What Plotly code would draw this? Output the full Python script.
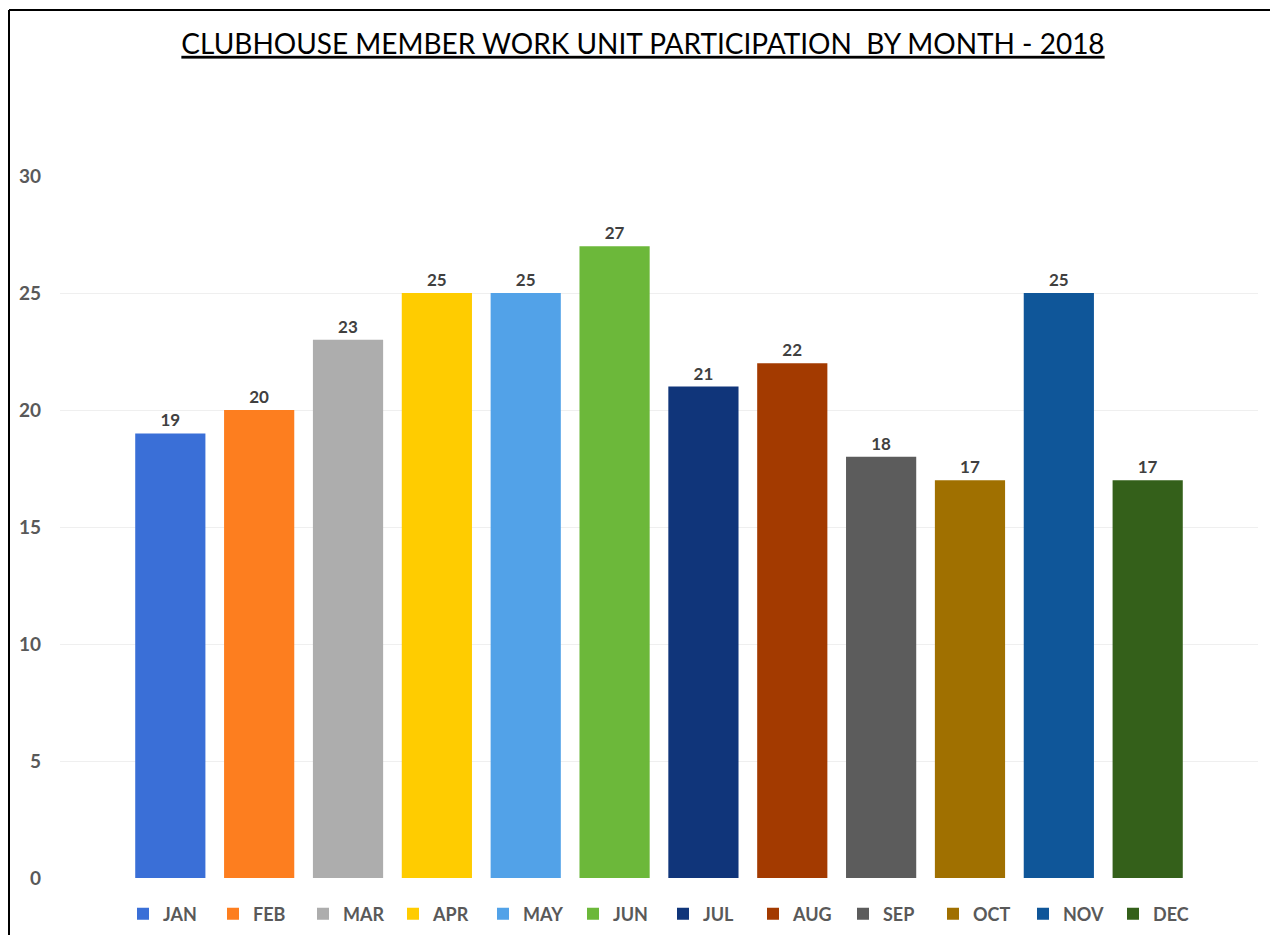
import plotly.graph_objects as go

months = ["JAN", "FEB", "MAR", "APR", "MAY", "JUN", "JUL", "AUG", "SEP", "OCT", "NOV", "DEC"]
values = [19, 20, 23, 25, 25, 27, 21, 22, 18, 17, 25, 17]
colors = ["#3A6FD7", "#FD7E1F", "#ADADAD", "#FFCC00", "#52A2E8", "#6CB83A",
          "#10357A", "#A33A00", "#5C5C5C", "#A07000", "#0F5699", "#34601A"]
category = ["2018"]
y_ticks = [0, 5, 10, 15, 20, 25, 30]

FONT = "Lato, 'Open Sans', sans-serif"

fig = go.Figure()
for m, v, c in zip(months, values, colors):
    fig.add_trace(go.Bar(
        x=category, y=[v], name=m, marker=dict(color=c, line=dict(width=0)),
        text=[str(v)], textposition="outside", cliponaxis=False,
        textfont=dict(family=FONT, size=17, color="#404040", weight="bold"),
    ))

OFF = 8  # page body margin
W, H = 1278 - 2 * OFF, 943 - 2 * OFF
L, R, T, B = 60 - OFF, W - (1258 - OFF), 176 - OFF, H - (878 - OFF)
pw, ph = W - L - R, H - T - B

def px_x(p):
    return (p - OFF - L) / pw

def px_y(p):
    return (H - B - (p - OFF)) / ph

fig.update_layout(
    width=W, height=H,
    margin=dict(l=L, r=R, t=T, b=B, autoexpand=False),
    paper_bgcolor="white", plot_bgcolor="white",
    barmode="group", bargap=0.11, bargroupgap=0.21,
    title=dict(
        text="<u>CLUBHOUSE MEMBER WORK UNIT PARTICIPATION  BY MONTH - 2018</u>",
        x=px_x(643), xanchor="center", xref="paper", y=1 - (44 - OFF) / H, yanchor="middle",
        font=dict(family=FONT, size=28, color="#000000"),
    ),
    xaxis=dict(showticklabels=False, showgrid=False, zeroline=False, showline=False),
    yaxis=dict(range=[0, 30], tickvals=y_ticks, showgrid=True, gridcolor="#EFEFEF",
               gridwidth=1, zeroline=False, showline=False, ticks="",
               tickfont=dict(family=FONT, size=19, color="#595959", weight="bold"),
               ticklabelstandoff=18),
    legend=dict(orientation="h", x=px_x(663), xanchor="center", y=px_y(914), yanchor="middle",
                font=dict(family=FONT, size=18, color="#595959", weight="bold"),
                entrywidth=45, itemwidth=30, traceorder="normal"),
    showlegend=True,
    shapes=[
        dict(type="line", xref="paper", yref="paper", x0=px_x(9), x1=px_x(9),
             y0=px_y(10), y1=px_y(960), line=dict(color="black", width=2)),
        dict(type="line", xref="paper", yref="paper", x0=px_x(9), x1=px_x(1300),
             y0=px_y(10), y1=px_y(10), line=dict(color="black", width=2)),
    ],
)

fig.write_html("out.html")
